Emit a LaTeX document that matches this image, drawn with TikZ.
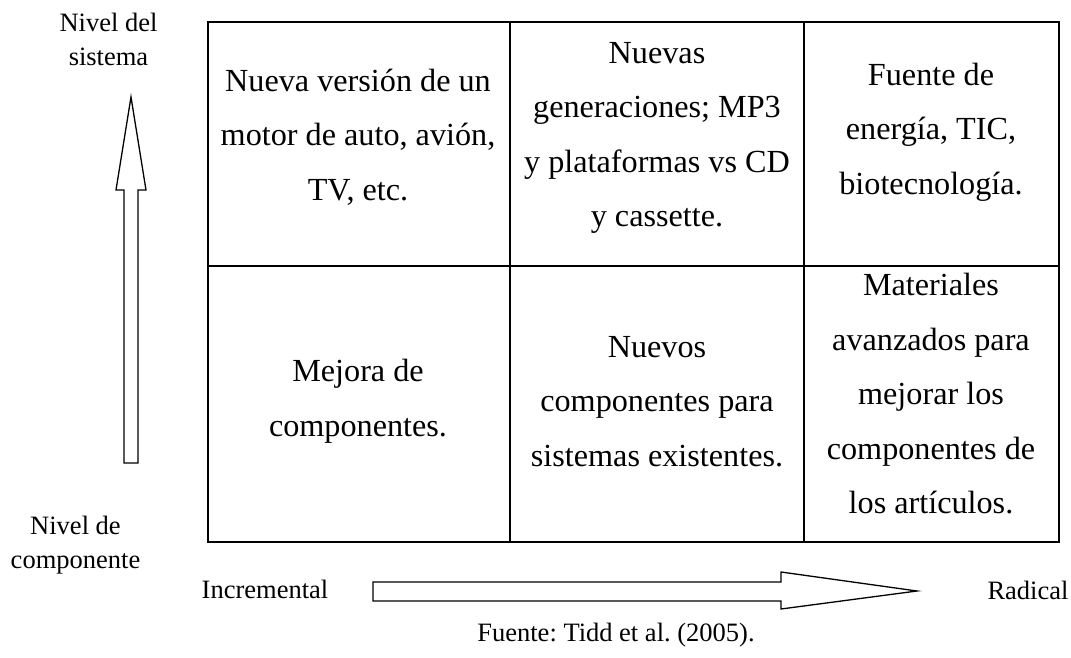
\documentclass[tikz,border=0pt]{standalone}
\usepackage{fontspec}
\setmainfont{Liberation Serif}
\frenchspacing
\begin{document}
\tikzset{
  gridline/.style={line width=2pt, line cap=rect},
  cell/.style={align=center, inner sep=0pt, font=\fontsize{32.2}{54.5}\selectfont},
  lab/.style={align=center, inner sep=0pt, font=\fontsize{26.5}{34}\selectfont},
  fatarrow/.style={line width=1.3pt, line join=miter, draw=black, fill=white}
}
\begin{tikzpicture}[x=1pt,y=-1pt]
\useasboundingbox (0,0) rectangle (1071,658);
% grid
\coordinate (tl) at (207.5,22);
\coordinate (br) at (1059,542);
\draw[gridline] (tl) rectangle (br);
\draw[gridline] (207.5,266) -- (1059,266);
\draw[gridline] (510,22) -- (510,542);
\draw[gridline] (804,22) -- (804,542);
% cells
\node[cell] (c11) at (358,135) {\strut Nueva versión de un\\\strut motor de auto, avión,\\\strut TV, etc.};
\node[cell] (c12) at (657,134) {\strut Nuevas\\\strut generaciones; MP3\\\strut y plataformas vs CD\\\strut y cassette.};
\node[cell] (c13) at (931,129) {\strut Fuente de\\\strut energía, TIC,\\\strut biotecnología.};
\node[cell] (c21) at (358,398) {\strut Mejora de\\\strut componentes.};
\node[cell] (c22) at (657,401) {\strut Nuevos\\\strut componentes para\\\strut sistemas existentes.};
\node[cell] (c23) at (931,394) {\strut Materiales\\\strut avanzados para\\\strut mejorar los\\\strut componentes de\\\strut los artículos.};
% vertical arrow
\draw[fatarrow] (124,463) -- (124,190) -- (116,190) -- (131,97) -- (146,190) -- (138,190) -- (138,463) -- cycle;
% horizontal arrow
\draw[fatarrow] (373,582) -- (781,582) -- (781,572) -- (917,591) -- (781,609) -- (781,601) -- (373,601) -- cycle;
% labels
\node[lab] (sis) at (108.5,42) {\strut Nivel del\\\strut sistema};
\node[lab] (comp) at (75.5,545) {\strut Nivel de\\\strut componente};
\node[lab, anchor=base] (inc) at (265,598) {Incremental};
\node[lab, anchor=base] (rad) at (1028,599) {Radical};
\node[lab, anchor=base] (src) at (616,641) {Fuente: Tidd et al. (2005).};
\end{tikzpicture}
\end{document}
